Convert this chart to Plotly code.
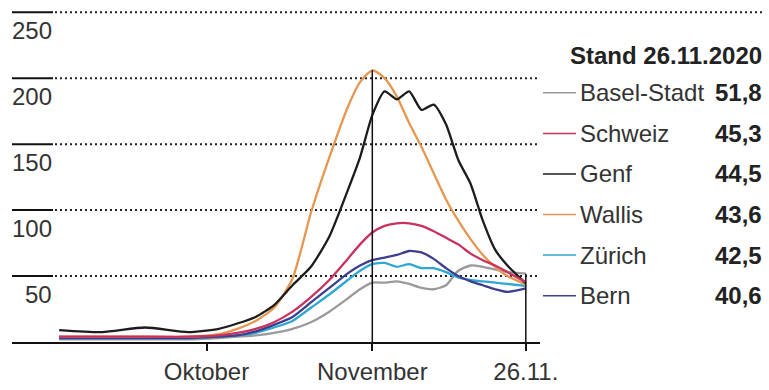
import plotly.graph_objects as go

# ---------------- data ----------------
dates = ["2020-09-11", "2020-09-18", "2020-09-25", "2020-10-02", "2020-10-07",
         "2020-10-10", "2020-10-13", "2020-10-16", "2020-10-19", "2020-10-22",
         "2020-10-25", "2020-10-28", "2020-10-30", "2020-11-01", "2020-11-03",
         "2020-11-05", "2020-11-07", "2020-11-09", "2020-11-11", "2020-11-13",
         "2020-11-15", "2020-11-17", "2020-11-19", "2020-11-21", "2020-11-23",
         "2020-11-26"]

basel = [2, 2, 2, 2, 3, 4, 5, 7, 10, 15, 23, 33, 40, 45, 45,
         46, 44, 41, 40, 43, 54, 58, 57, 55, 53, 51.8]
schweiz = [4, 4, 4, 4, 5, 7, 10, 15, 23, 34, 47, 63, 74, 83, 88,
           90, 90, 88, 84, 79, 74, 67, 62, 58, 53, 45.3]
genf = [9, 7.5, 11, 7.5, 10, 14, 19, 28, 43, 57, 80, 115, 140, 172, 190,
        184, 190, 176, 180, 165, 138, 120, 92, 70, 58, 44.5]
wallis = [4, 4, 4, 4, 6, 10, 16, 26, 48, 98, 140, 178, 197, 206, 200,
          186, 166, 148, 128, 108, 92, 78, 66, 57, 50, 43.6]
zuerich = [3, 3, 3, 3, 4, 5, 7, 11, 16, 26, 36, 47, 54, 59, 60,
           57, 59, 56, 56, 53, 49, 47, 46, 45, 44, 42.5]
bern = [3, 3, 3, 3, 4, 5, 8, 13, 19, 30, 41, 52, 58, 62, 64,
        66, 69, 68, 63, 56, 50, 46, 43, 40, 38, 40.6]

names = ["Basel-Stadt", "Schweiz", "Genf", "Wallis", "Zürich", "Bern"]
values = [basel, schweiz, genf, wallis, zuerich, bern]
colors = ["#9a9a9a", "#c8325e", "#1c1c1c", "#e6964f", "#2ea8d2", "#3d3f8e"]

y_ticks = [50, 100, 150, 200, 250]
x_tickvals = ["2020-10-05", "2020-11-01", "2020-11-26"]
x_ticktext = ["Oktober", "November", "26.11."]
stand_label = "Stand 26.11.2020"

# ---------------- layout helpers ----------------
W, H = 769, 390
L, R, T, B = 12, 540, 5, 354  # plot area in page pixels
PX_PER_UNIT = 1.366


def fx(px):
    return (px - L) / (R - L)


def fy(py):
    return (B - py) / (B - T)


FONT = "Liberation Sans, Arial, Helvetica, sans-serif"
TXT = "#333333"
FS = 24

fig = go.Figure()

draw_order = [0, 4, 5, 3, 2, 1]
for i in draw_order:
    fig.add_trace(go.Scatter(
        x=dates, y=values[i], mode="lines", name=names[i],
        line=dict(color=colors[i], width=2.3, shape="spline", smoothing=0.6),
        showlegend=False, hoverinfo="skip"))

shapes = []
annotations = []

# gridlines: short solid segment + dotted remainder
for v in y_ticks:
    shapes.append(dict(type="line", xref="paper", yref="y",
                       x0=fx(12), x1=fx(53), y0=v, y1=v,
                       line=dict(color="#111111", width=2), layer="below"))
    x_end = fx(762) if v == max(y_ticks) else fx(538)
    shapes.append(dict(type="line", xref="paper", yref="y",
                       x0=fx(55), x1=x_end, y0=v, y1=v,
                       line=dict(color="#222222", width=2, dash="2px,3px"),
                       layer="below"))
    annotations.append(dict(xref="paper", yref="y", x=fx(54), y=v,
                            xanchor="right", yanchor="middle", yshift=-18,
                            text=str(v), showarrow=False,
                            font=dict(family=FONT, size=FS, color=TXT)))

# vertical marker lines
shapes.append(dict(type="line", xref="x", yref="y",
                   x0=x_tickvals[1], x1=x_tickvals[1], y0=0, y1=max(wallis),
                   line=dict(color="#111111", width=1.5)))
shapes.append(dict(type="line", xref="x", yref="y",
                   x0=x_tickvals[2], x1=x_tickvals[2], y0=0,
                   y1=max(v[-1] for v in values),
                   line=dict(color="#111111", width=1.5)))

# custom legend
annotations.append(dict(xref="paper", yref="paper", x=fx(764), y=fy(57),
                        xanchor="right", yanchor="middle",
                        text="<b>" + stand_label + "</b>", showarrow=False,
                        font=dict(family=FONT, size=FS, color="#222222")))
row_y = [96, 138, 180, 222, 264, 306]
for name, vals, col, ry in zip(names, values, colors, row_y):
    shapes.append(dict(type="line", xref="paper", yref="paper",
                       x0=fx(543), x1=fx(576), y0=fy(ry), y1=fy(ry),
                       line=dict(color=col, width=1.5)))
    annotations.append(dict(xref="paper", yref="paper", x=fx(578), y=fy(ry),
                            xanchor="left", yanchor="middle", text=name,
                            showarrow=False,
                            font=dict(family=FONT, size=FS, color=TXT)))
    annotations.append(dict(xref="paper", yref="paper", x=fx(764), y=fy(ry),
                            xanchor="right", yanchor="middle",
                            text="<b>" + f"{vals[-1]:.1f}".replace(".", ",") + "</b>",
                            showarrow=False,
                            font=dict(family=FONT, size=FS, color="#222222")))

ymax = (B - T) / PX_PER_UNIT

fig.update_layout(
    width=W, height=H,
    margin=dict(l=L, r=W - R, t=T, b=H - B, pad=0),
    paper_bgcolor="white", plot_bgcolor="white",
    shapes=shapes, annotations=annotations,
    showlegend=False,
    xaxis=dict(type="date",
               range=["2020-09-03 07:40", "2020-11-28 07:26"],
               tickvals=x_tickvals, ticktext=x_ticktext,
               ticks="outside", ticklen=7, tickwidth=1.5, tickcolor="#111111",
               showline=True, linecolor="#111111", linewidth=1.5,
               showgrid=False, zeroline=False, fixedrange=True,
               tickfont=dict(family=FONT, size=FS, color=TXT)),
    yaxis=dict(range=[0, ymax], showticklabels=False, showgrid=False,
               zeroline=False, showline=False, ticks="", fixedrange=True),
)

fig.write_html("out.html", config={"displayModeBar": False},
               post_script="document.body.style.margin='0';"
                           "document.body.style.overflow='hidden';")
